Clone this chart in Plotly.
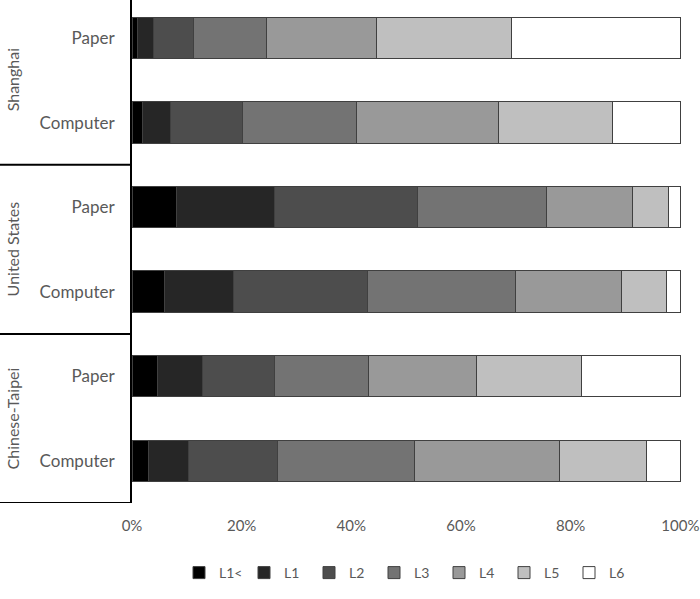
import plotly.graph_objects as go

# categories bottom -> top
categories = ["Chinese-Taipei Computer", "Chinese-Taipei Paper",
              "United States Computer", "United States Paper",
              "Shanghai Computer", "Shanghai Paper"]
cat_labels = ["Computer", "Paper", "Computer", "Paper", "Computer", "Paper"]
countries = ["Chinese-Taipei", "United States", "Shanghai"]
levels = ["L1<", "L1", "L2", "L3", "L4", "L5", "L6"]
colors = ["#000000", "#262626", "#4d4d4d", "#737373", "#999999", "#bfbfbf", "#ffffff"]

L1lt = [0.030, 0.047, 0.060, 0.081, 0.019, 0.010]
L1   = [0.073, 0.082, 0.125, 0.178, 0.051, 0.030]
L2   = [0.162, 0.131, 0.245, 0.262, 0.132, 0.073]
L3   = [0.250, 0.171, 0.269, 0.234, 0.208, 0.132]
L4   = [0.264, 0.197, 0.194, 0.157, 0.258, 0.201]
L5   = [0.160, 0.191, 0.082, 0.066, 0.209, 0.246]
L6   = [0.061, 0.181, 0.025, 0.022, 0.123, 0.308]
series = [L1lt, L1, L2, L3, L4, L5, L6]

font_family = "Lato, 'Open Sans', sans-serif"
gray = "#595959"

fig = go.Figure()
for name, vals, col in zip(levels, series, colors):
    fig.add_trace(go.Bar(
        y=categories, x=vals, name=name, orientation="h",
        marker=dict(color=col, line=dict(color="#404040", width=1)),
        width=0.49,
    ))

W, H = 700, 599
ml, mr, mt, mb = 132, 18, 0, 96
pw = W - ml - mr
ph = H - mt - mb

shapes = []
for yv in [1.5, 3.5, -0.5]:
    shapes.append(dict(type="line", xref="paper", yref="y",
                       x0=-ml / pw, x1=0, y0=yv, y1=yv,
                       line=dict(color="black", width=2)))

annotations = []
for i, c in enumerate(countries):
    annotations.append(dict(text=c, xref="paper", yref="y",
                            x=(12 - ml) / pw, y=2 * i + 0.5,
                            textangle=-90, showarrow=False,
                            font=dict(family=font_family, size=16, color=gray),
                            xanchor="center", yanchor="middle"))

fig.update_layout(
    width=W, height=H,
    margin=dict(l=ml, r=mr, t=mt, b=mb),
    barmode="stack",
    plot_bgcolor="white", paper_bgcolor="white",
    font=dict(family=font_family, color=gray, size=14),
    xaxis=dict(range=[0, 1.003], tickvals=[0, 0.2, 0.4, 0.6, 0.8, 1.0],
               tickformat=".0%", showgrid=False, zeroline=False,
               showline=False, ticks="", ticklabelstandoff=12,
               tickfont=dict(size=15, color=gray)),
    yaxis=dict(type="category", categoryorder="array", categoryarray=categories,
               range=[-0.5, 5.45], tickvals=categories, ticktext=cat_labels,
               showline=True, linecolor="black", linewidth=2,
               showgrid=False, ticks="", ticklabelstandoff=12,
               tickfont=dict(size=17, color=gray)),
    legend=dict(orientation="h", x=(179 - ml) / pw, xanchor="left",
                y=((H - mb) - 573) / ph,
                yanchor="middle", traceorder="normal",
                font=dict(size=14, color=gray),
                entrywidth=20, itemwidth=30),
    shapes=shapes,
    annotations=annotations,
    bargap=0.5,
)

fig.write_html("out.html")
